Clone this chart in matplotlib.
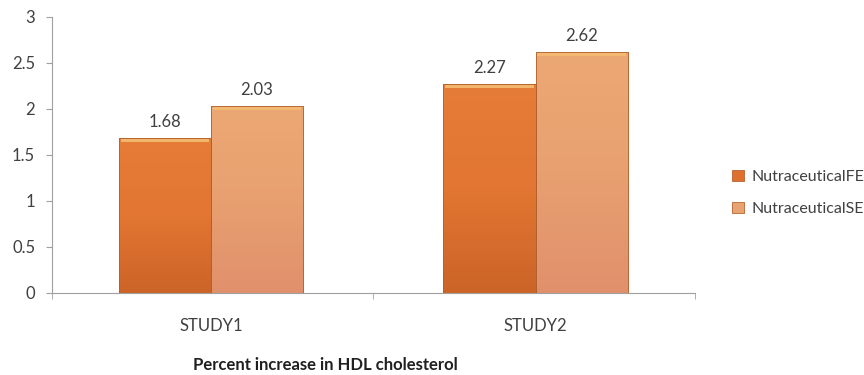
import numpy as np
import matplotlib
matplotlib.use("Agg")
import matplotlib.pyplot as plt
from matplotlib.colors import LinearSegmentedColormap
from matplotlib.patches import Rectangle

categories = ["STUDY1", "STUDY2"]
series_names = ["NutraceuticalFE", "NutraceuticalSE"]
fe_values = [1.68, 2.27]
se_values = [2.03, 2.62]
y_ticks = [0, 0.5, 1, 1.5, 2, 2.5, 3]
y_tick_labels = ["0", "0.5", "1", "1.5", "2", "2.5", "3"]

plt.rcParams["font.family"] = ["Lato", "DejaVu Sans"]

fig = plt.figure(figsize=(8.64, 3.75), dpi=100)
ax = fig.add_axes([0.060, 0.2187, 0.744, 0.736])

x = np.arange(len(categories))
width = 0.284
base_colors = ["#DE7030", "#E9A272"]
grads = [
    LinearSegmentedColormap.from_list("fe", ["#CC6428", "#E27632", "#E57C38"]),
    LinearSegmentedColormap.from_list("se", ["#E1906C", "#E8A070", "#ECA874"]),
]

for i, (vals, name) in enumerate(zip([fe_values, se_values], series_names)):
    offs = (i - 0.5) * width
    bars = ax.bar(x + offs, vals, width, color=base_colors[i], label=name,
                  edgecolor="#B8642E", linewidth=0.6, zorder=2)
    for b, v in zip(bars, vals):
        x0 = b.get_x()
        w = b.get_width()
        h = b.get_height()
        grad = np.linspace(0, 1, 256).reshape(-1, 1)
        im = ax.imshow(grad, cmap=grads[i], aspect="auto", origin="lower",
                       extent=[x0, x0 + w, 0, h], zorder=2.1)
        im.set_clip_path(b)
        # bevelled highlight along the top
        ax.add_patch(Rectangle((x0 + w * 0.02, h - 0.04), w * 0.96, 0.035,
                               facecolor="#F4BC72", edgecolor="none",
                               alpha=0.9, zorder=2.2))
        ax.add_patch(Rectangle((x0, 0), w, h, facecolor="none",
                               edgecolor="#B0602C", linewidth=0.6, zorder=2.3))
        ax.text(b.get_x() + w / 2, h + 0.09, f"{v:.2f}", ha="center",
                va="bottom", fontsize=12, color="#404040")

ax.set_xlim(-0.49, 1.49)
ax.set_ylim(0, 3)
ax.set_yticks(y_ticks)
ax.set_yticklabels(y_tick_labels, fontsize=12, color="#404040")
ax.set_xticks(x)
ax.set_xticklabels(categories, fontsize=12, color="#404040")
ax.tick_params(axis="x", length=0, pad=18)
ax.set_xticks([-0.49, 0.5, 1.49], minor=True)
ax.tick_params(axis="x", which="minor", length=4, color="#A0A0A0")
ax.tick_params(axis="y", length=4, color="#A0A0A0", pad=8)

for s in ["top", "right"]:
    ax.spines[s].set_visible(False)
ax.spines["left"].set_color("#A0A0A0")
ax.spines["bottom"].set_color("#A0A0A0")

handles, labels = ax.get_legend_handles_labels()
fig.legend(handles, labels, loc="center left",
           bbox_to_anchor=(718 / 864, 1 - 193 / 375),
           frameon=False, fontsize=11.5, handlelength=0.7, handleheight=0.7,
           labelspacing=1.1, handletextpad=0.5, labelcolor="#404040")

fig.text(325 / 864, 1 - 365 / 375, "Percent increase in HDL cholesterol",
         ha="center", va="center", fontsize=12, fontweight="bold",
         color="#202020")

fig.savefig("out.png", dpi=100)
